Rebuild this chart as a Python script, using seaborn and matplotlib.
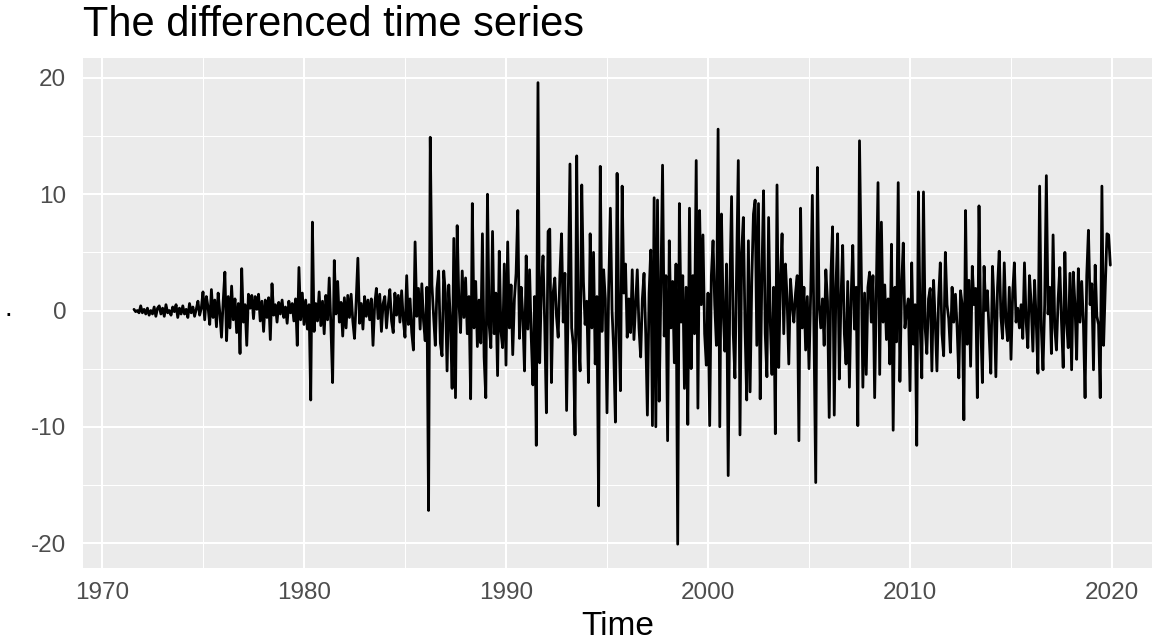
import numpy as np
import pandas as pd
import matplotlib
matplotlib.use("Agg")
import matplotlib.pyplot as plt
import seaborn as sns

# Monthly differenced values, starting August 1971
vals_1970s = [
    0.1, -0.1, 0.0, -0.2, 0.4,                                             # 1971 Aug-Dec
    -0.2, 0.1, -0.3, 0.2, -0.4, 0.0, -0.3, 0.3, -0.5, 0.2, 0.4, -0.3,      # 1972
    0.2, -0.5, 0.5, -0.2, 0.0, -0.4, 0.3, -0.1, 0.5, -0.6, 0.2, -0.3,      # 1973
    0.4, -0.3, 0.1, -0.6, 0.6, -0.2, 0.3, -0.5, 0.1, 0.8, -0.4, 0.2,       # 1974
    1.6, -0.8, 1.2, 0.3, -1.2, 1.8, -0.6, 0.9, -1.4, 1.5, -0.2, -2.3,      # 1975
    0.8, 3.3, -2.6, 1.2, -1.5, 2.1, -0.8, 1.0, -1.9, 0.6, -3.7, 3.6,       # 1976
    -1.0, 0.5, -3.0, 1.4, 0.2, 1.3, -0.7, 1.2, 0.1, 1.4, -0.9, 0.8,        # 1977
    -1.8, 0.9, -0.6, 1.1, -2.5, 2.3, -0.4, 0.5, -1.0, 0.7, -0.3, 0.9,      # 1978
    -0.6, 0.3, -1.1, 0.8, -0.2, 0.6, -0.9, 1.0, -3.0, 3.7, -0.8, 1.5,      # 1979
]
vals_1980s = [
    -1.2, 0.9, -1.6, 0.5, -7.7, 7.6, -1.8, 0.6, -0.9, 1.6, -1.3, 0.8,      # 1980
    -2.0, 1.3, -0.8, 2.8, -1.4, -6.2, 4.3, -0.3, 2.5, -1.0, 0.7, -2.2,     # 1981
    1.1, -1.5, 1.3, -0.6, 1.4, -0.9, -2.4, 0.8, 4.5, -1.1, 0.6, -1.6,      # 1982
    1.2, -0.5, 0.9, -0.8, 1.0, -3.0, 0.5, 1.9, -0.7, 1.4, -1.8, 0.6,       # 1983
    1.2, -1.5, 0.4, 1.8, -0.9, -1.9, 1.5, -0.4, 1.3, -1.0, 1.7, -0.8,      # 1984
    -2.3, 3.0, -1.2, 1.0, -1.9, -3.4, 5.9, -0.5, 1.9, -1.6, 2.3, -0.9,     # 1985
    -2.6, 2.0, -17.2, 14.9, 2.2, -0.5, -3.0, 1.9, 3.4, -2.8, -3.9, 3.4,    # 1986
    1.5, -5.2, 2.2, -1.0, -6.7, 6.2, -7.5, 7.3, 0.8, -1.9, 3.4, -0.6,      # 1987
    2.8, -2.0, 1.2, -7.6, 9.2, -1.5, 2.5, -3.1, 0.9, -2.8, 6.6, -4.0,      # 1988
    -7.5, 10.0, -1.2, -3.2, 6.8, -2.0, 1.5, -5.6, 5.1, -1.8, -3.2, 4.0,    # 1989
]
vals_1990s = [
    -4.7, 5.9, -1.5, 2.2, -3.8, 1.0, 3.2, 8.6, -2.4, 2.0, -0.5, -5.2,      # 1990
    4.7, -1.6, 3.5, -2.3, -6.4, 1.2, -11.6, 19.6, -4.5, 1.8, 4.7, -1.2,    # 1991
    -8.8, 6.8, 7.0, -6.2, 1.5, 2.8, -0.5, -2.3, 3.0, 6.6, -1.0, 3.2,       # 1992
    -8.6, 1.5, 12.6, -1.5, -3.0, -10.7, 13.3, -2.0, -5.2, 10.8, 2.5, -1.2, # 1993
    0.8, -6.2, 6.6, -1.5, 5.0, -4.6, 1.2, -16.8, 12.4, -1.8, 3.5, 1.0,     # 1994
    -8.8, 2.0, 8.8, 0.0, -3.5, -9.6, 11.8, -1.0, -6.9, 10.7, 1.5, 4.0,     # 1995
    -2.3, 1.0, -1.9, 3.5, -2.5, 0.5, 3.5, -1.5, -4.0, 1.0, 3.2, -2.0,      # 1996
    -9.0, 1.5, 5.2, -9.9, 9.7, -10.0, 9.5, -7.8, 2.0, 12.5, -2.2, 3.0,     # 1997
    -11.2, 6.0, -1.5, 2.5, -4.5, 4.0, -20.1, 9.2, -1.0, 3.0, -6.7, 2.0,    # 1998
    -9.8, 8.8, -5.0, 3.0, -2.0, 12.9, -8.4, 8.6, 0.5, 6.5, -2.0, -4.7,     # 1999
]
vals_2000s = [
    1.5, -9.9, 3.0, 6.0, 0.5, -3.0, 15.6, -10.0, 8.3, 0.0, -3.5, 4.0,      # 2000
    -14.2, 2.0, 9.8, -2.0, -5.8, 3.5, 12.9, -10.7, 5.0, 8.0, -1.5, -7.7,   # 2001
    6.0, -7.0, 2.5, 8.3, 9.5, -3.0, 9.2, -7.6, 3.0, 10.3, -2.0, -5.7,      # 2002
    8.0, -1.0, -5.5, 2.0, -10.6, 10.8, -4.9, 2.5, 6.6, -2.0, 4.0, 1.0,     # 2003
    -4.6, 2.7, 0.5, -1.0, 1.5, 3.0, -11.2, 8.8, -1.5, 2.0, -3.4, 1.2,      # 2004
    -5.0, 1.5, 9.9, -2.8, -14.8, 12.3, 0.5, -1.5, 1.0, -3.0, 3.5, 0.8,     # 2005
    -9.2, 3.0, 7.2, -9.0, 2.0, 6.6, -5.9, 1.0, 5.6, -2.0, -4.6, 2.5,       # 2006
    -6.6, 1.0, 5.6, -1.6, 2.0, -9.9, 14.6, 3.9, -6.6, 1.5, -5.5, 2.0,      # 2007
    3.3, -1.0, 3.0, -7.5, 2.0, 11.0, -5.5, 7.6, -1.0, 2.2, -2.5, 1.0,      # 2008
    -4.6, 5.7, -10.3, 2.0, -2.7, 11.0, -6.1, 2.0, 5.8, -1.5, 0.0, 1.0,     # 2009
]
vals_2010s = [
    -6.9, 4.1, -2.9, 0.5, -11.6, 10.2, -1.0, -5.8, 10.2, -1.5, -3.7, 1.0,  # 2010
    1.9, -5.2, 2.6, -1.0, -5.2, 1.0, 4.1, -2.0, -3.9, 5.0, 0.5, -0.7,      # 2011
    -3.6, 2.0, -1.0, 1.4, -1.5, -5.8, 1.7, 0.5, -9.4, 8.6, -2.9, 2.6,      # 2012
    -4.8, 3.8, 0.5, 1.9, -7.5, 9.0, -1.0, -6.2, 3.8, 0.0, 1.7, -2.0,       # 2013
    -5.4, 3.8, 0.5, -5.7, 2.0, 5.1, -0.5, -2.4, 4.1, -1.0, -2.6, 2.0,      # 2014
    -4.2, 1.5, 4.1, -1.0, 0.2, -1.5, 0.5, -2.4, 4.1, -1.0, -3.2, 3.0,      # 2015
    0.5, -3.5, 2.6, -1.0, -5.4, 10.7, -1.5, -5.1, 0.5, 11.6, -0.3, 2.0,    # 2016
    -3.7, 6.5, -1.5, -3.4, 1.0, 3.7, -1.0, -4.9, 5.0, -1.0, -3.2, 3.2,     # 2017
    -5.1, 3.3, 0.5, -4.2, 3.6, -1.0, 2.5, -1.0, -7.5, 3.0, 6.9, 0.5,       # 2018
    2.3, -5.1, 3.9, -0.5, -1.2, -7.5, 10.7, -3.0, 2.0, 6.6, 6.5, 3.9,      # 2019
]

x_ticks = [1970, 1980, 1990, 2000, 2010, 2020]
y_ticks = [-20, -10, 0, 10, 20]
title = "The differenced time series"

values = vals_1970s + vals_1980s + vals_1990s + vals_2000s + vals_2010s
dates = pd.date_range("1971-08-01", periods=len(values), freq="MS")
df = pd.DataFrame({"Time": dates.year + (dates.month - 1) / 12.0, "value": values})

sns.set_theme(style="darkgrid")
plt.rcParams["font.family"] = ["Liberation Sans", "DejaVu Sans"]

fig = plt.figure(figsize=(11.6, 6.41), dpi=100)
ax = fig.add_axes([83 / 1160, 73 / 641, (1152 - 83) / 1160, (568 - 58) / 641])
ax.set_facecolor("#EBEBEB")

sns.lineplot(data=df, x="Time", y="value", color="black", linewidth=2.0,
             estimator=None, ax=ax)

ax.set_xlim(1969.06, 2021.98)
ax.set_ylim(-22.15, 21.72)
ax.set_xticks(x_ticks)
ax.set_yticks(y_ticks)
ax.set_xticklabels([str(t) for t in x_ticks])
ax.set_yticklabels([str(t) for t in y_ticks])
ax.set_xticks([1975, 1985, 1995, 2005, 2015], minor=True)
ax.set_yticks([-15, -5, 5, 15], minor=True)
ax.grid(which="major", color="white", linewidth=1.5)
ax.grid(which="minor", color="white", linewidth=0.75)
ax.set_axisbelow(True)
for s in ax.spines.values():
    s.set_visible(False)

ax.tick_params(axis="both", which="major", length=5, width=1.2, color="#333333",
               labelsize=17.5, labelcolor="#4D4D4D")
ax.tick_params(axis="x", which="major", pad=5)
ax.tick_params(axis="y", which="major", pad=7)
ax.tick_params(axis="both", which="minor", length=0)

ax.set_xlabel("Time", fontsize=24, color="black", labelpad=5)
ax.set_ylabel(".", fontsize=20, color="black", rotation=0, ha="center", va="baseline")
ax.yaxis.set_label_coords((8 - 83) / 1069, (568 - 316) / 510)
ax.set_title(title, fontsize=30, loc="left", color="black", pad=16, x=0.0)

fig.savefig("out.png", dpi=100, facecolor="white")
